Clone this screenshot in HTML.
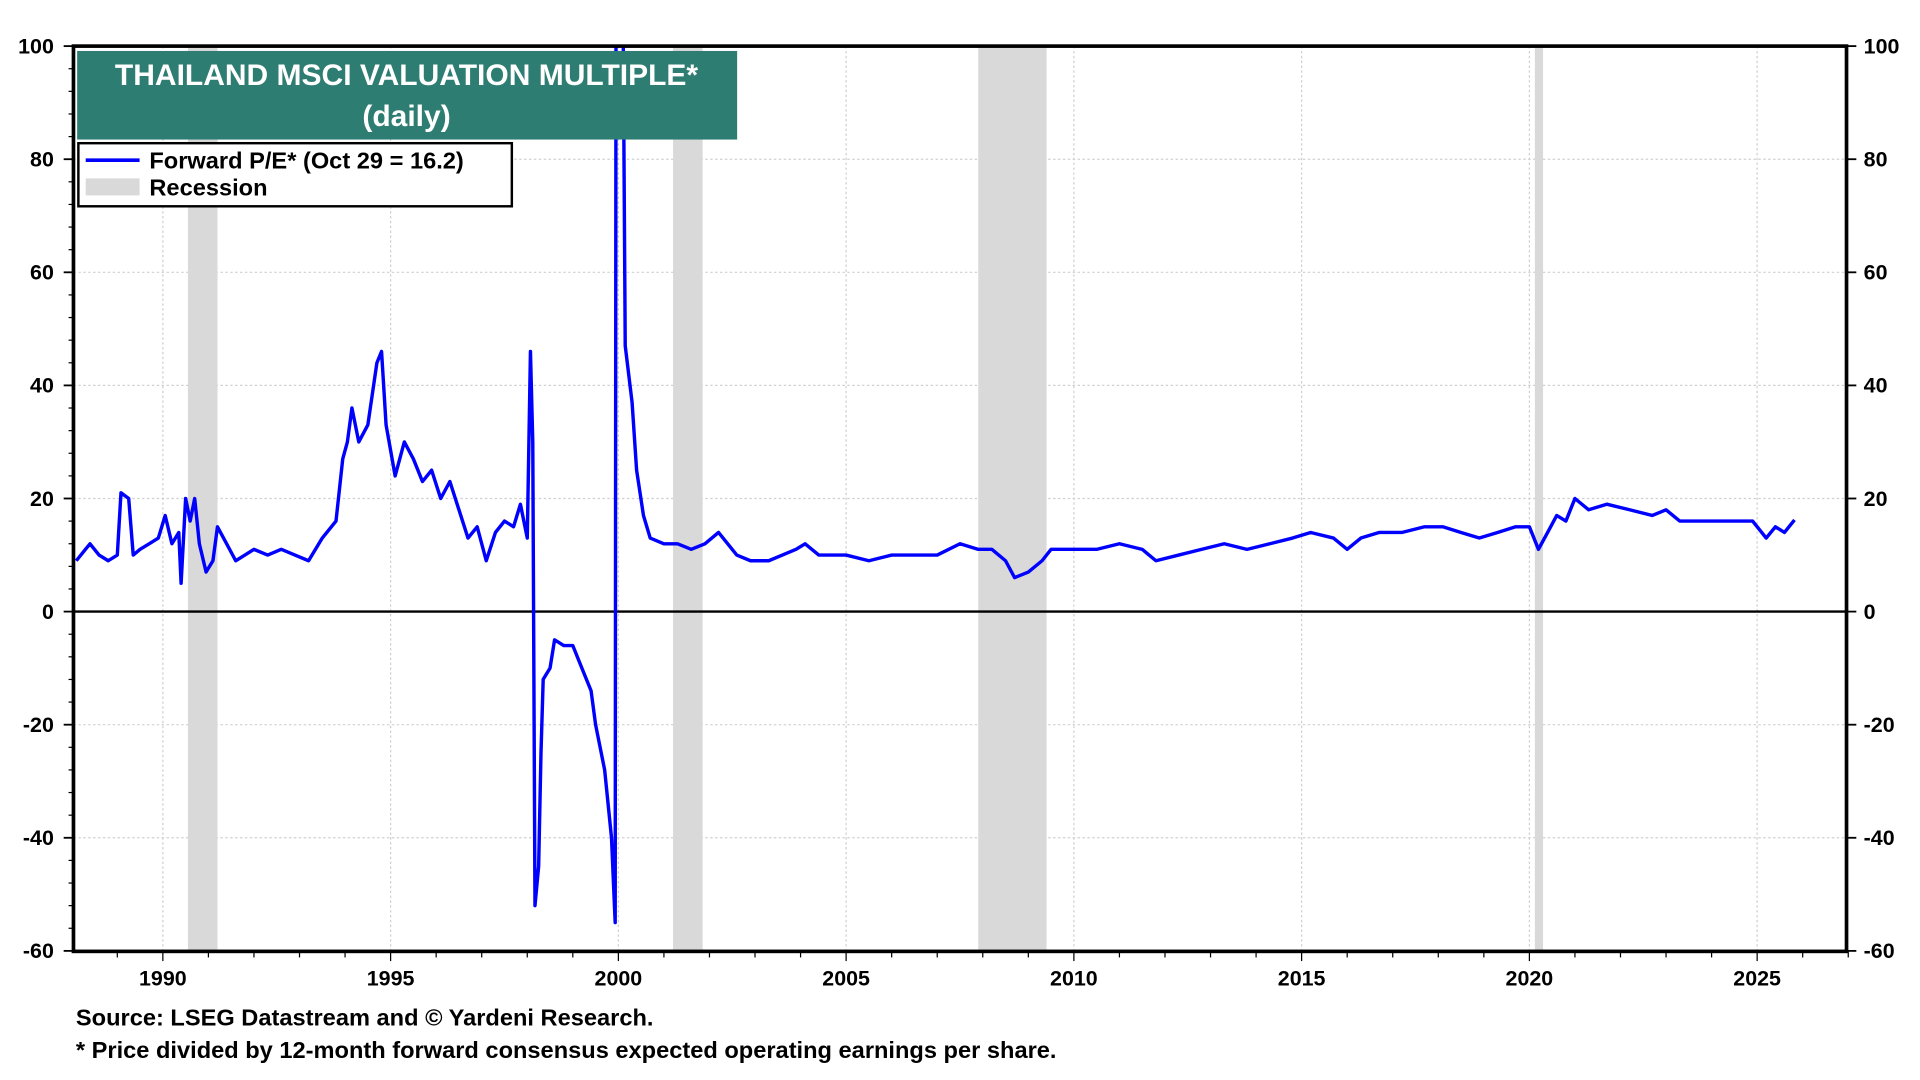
<!DOCTYPE html>
<html><head><meta charset="utf-8">
<style>
html,body{margin:0;padding:0;background:#fff;width:100%;height:100%;overflow:hidden}
svg{display:block;width:100vw;height:100vh}
text{font-family:"Liberation Sans",Arial,sans-serif;font-weight:bold}
</style></head>
<body>
<svg id="chart" viewBox="0 0 1568 890" preserveAspectRatio="none" xmlns="http://www.w3.org/2000/svg">
<defs><clipPath id="clip"><rect x="60" y="38" width="1448" height="746"/></clipPath></defs>
<g id="grid"></g>
<g id="rec" clip-path="url(#clip)"></g>
<g id="axes"></g>
<path id="line" clip-path="url(#clip)" fill="none" stroke="#0000ff" stroke-width="2.8" stroke-linejoin="round"/>
<rect x="60" y="38" width="1448" height="746" fill="none" stroke="#000" stroke-width="3"/>
<rect x="63" y="42" width="539" height="73" fill="#2e7d72"/>
<text x="332" y="70" fill="#fff" font-size="24.5" text-anchor="middle">THAILAND MSCI VALUATION MULTIPLE*</text>
<text x="332" y="104" fill="#fff" font-size="24.5" text-anchor="middle">(daily)</text>
<g>
<rect x="64" y="118" width="354" height="52" fill="#fff" stroke="#000" stroke-width="2"/>
<line x1="70" y1="132" x2="114" y2="132" stroke="#0000ff" stroke-width="3"/>
<text x="122" y="139" font-size="19.3">Forward P/E* (Oct 29 = 16.2)</text>
<rect x="70" y="147" width="44" height="14" fill="#d9d9d9"/>
<text x="122" y="161" font-size="19.3">Recession</text>
</g>
<text x="62" y="845" font-size="19.3">Source: LSEG Datastream and © Yardeni Research.</text>
<text x="62" y="872" font-size="19.3">* Price divided by 12-month forward consensus expected operating earnings per share.</text>
</svg>
<script>
const years=[1988.1,1988.3,1988.4,1988.6,1988.8,1989.0,1989.08,1989.25,1989.35,1989.5,1989.7,1989.9,1990.05,1990.2,1990.35,1990.4,1990.5,1990.6,1990.7,1990.8,1990.95,1991.1,1991.2,1991.4,1991.6,1991.8,1992.0,1992.3,1992.6,1992.9,1993.2,1993.5,1993.8,1993.95,1994.05,1994.15,1994.3,1994.5,1994.7,1994.8,1994.9,1995.1,1995.3,1995.5,1995.7,1995.9,1996.1,1996.3,1996.5,1996.7,1996.9,1997.1,1997.3,1997.5,1997.7,1997.85,1998.0,1998.07,1998.12,1998.15,1998.17,1998.25,1998.3,1998.35,1998.5,1998.6,1998.8,1999.0,1999.2,1999.4,1999.5,1999.7,1999.85,1999.93,1999.95,2000.1,2000.15,2000.3,2000.4,2000.55,2000.7,2001.0,2001.3,2001.6,2001.9,2002.2,2002.4,2002.6,2002.9,2003.3,2003.6,2003.9,2004.1,2004.4,2004.7,2005.0,2005.5,2006.0,2006.5,2007.0,2007.5,2007.9,2008.2,2008.5,2008.7,2009.0,2009.3,2009.5,2010.0,2010.5,2011.0,2011.5,2011.8,2012.3,2012.8,2013.3,2013.8,2014.3,2014.8,2015.2,2015.7,2016.0,2016.3,2016.7,2017.2,2017.7,2018.1,2018.5,2018.9,2019.3,2019.7,2020.0,2020.2,2020.4,2020.6,2020.8,2021.0,2021.3,2021.7,2022.2,2022.7,2023.0,2023.3,2023.7,2024.2,2024.6,2024.9,2025.2,2025.4,2025.6,2025.82];
const pe=[9,11,12,10,9,10,21,20,10,11,12,13,17,12,14,5,20,16,20,12,7,9,15,12,9,10,11,10,11,10,9,13,16,27,30,36,30,33,44,46,33,24,30,27,23,25,20,23,18,13,15,9,14,16,15,19,13,46,30,-20,-52,-45,-25,-12,-10,-5,-6,-6,-10,-14,-20,-28,-40,-55,110,110,47,37,25,17,13,12,12,11,12,14,12,10,9,9,10,11,12,10,10,10,9,10,10,10,12,11,11,9,6,7,9,11,11,11,12,11,9,10,11,12,11,12,13,14,13,11,13,14,14,15,15,14,13,14,15,15,11,14,17,16,20,18,19,18,17,18,16,16,16,16,16,13,15,14,16.2];
const recStart=[1990.55,2001.2,2007.9,2020.12];
const recEnd=[1991.2,2001.85,2009.4,2020.3];
const yTicks=[100,80,60,40,20,0,-20,-40,-60];
const xTicks=[1990,1995,2000,2005,2010,2015,2020,2025];
const NS='http://www.w3.org/2000/svg';
const X=y=>133+(y-1990)*(1435-133)/35;
const Y=v=>504-v*(504-38)/100;
function mk(t,a,p){const e=document.createElementNS(NS,t);for(const k in a)e.setAttribute(k,a[k]);p.appendChild(e);return e;}
const grid=document.getElementById('grid'),axes=document.getElementById('axes'),rec=document.getElementById('rec');
yTicks.forEach(v=>{
 const l=mk('line',{x1:60,x2:1508,y1:Y(v),y2:Y(v),stroke:v===0?'#000':'#d0d0d0','stroke-width':v===0?2:1,'stroke-dasharray':v===0?'':'2,2'},v===0?axes:grid);
 
 
 const a=mk('text',{x:44,y:Y(v)+6,'font-size':17.5,'text-anchor':'end'},axes);a.textContent=v;
 
 
 const b=mk('text',{x:1522,y:Y(v)+6,'font-size':17.5},axes);b.textContent=v;
 
 
 mk('line',{x1:52,x2:60,y1:Y(v),y2:Y(v),stroke:'#000','stroke-width':1.5},axes);
 mk('line',{x1:1508,x2:1516,y1:Y(v),y2:Y(v),stroke:'#000','stroke-width':1.5},axes);
});
for(let v=-56;v<100;v+=4){if(v%20)mk('line',{x1:56,x2:60,y1:Y(v),y2:Y(v),stroke:'#000'},axes);}
xTicks.forEach(y=>{
 const l=mk('line',{x1:X(y),x2:X(y),y1:38,y2:784,stroke:'#d0d0d0','stroke-dasharray':'2,2'},grid);
 
 
 const t=mk('text',{x:X(y),y:812,'font-size':17.5,'text-anchor':'middle'},axes);t.textContent=y;
 
 
});
for(let y=1989;y<=2027;y++){mk('line',{x1:X(y),x2:X(y),y1:784,y2:y%5?789:792,stroke:'#000'},axes);}
recStart.forEach((s,i)=>{
 const r=mk('rect',{x:X(s),y:38,width:X(recEnd[i])-X(s),height:746,fill:'#d9d9d9'},rec);
 
 
});
document.getElementById('line').setAttribute('d',years.map((y,i)=>(i?'L':'M')+X(y).toFixed(1)+','+Y(pe[i]).toFixed(1)).join(''));
</script>
</body></html>
